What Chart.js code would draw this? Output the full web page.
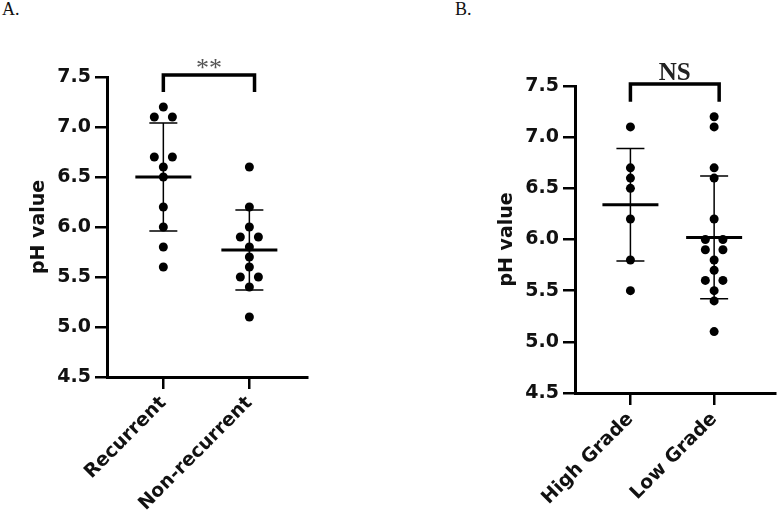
<!DOCTYPE html>
<html>
<head>
<meta charset="utf-8">
<script src="https://cdn.jsdelivr.net/npm/chart.js@4"></script>
<style>
  html, body { margin: 0; padding: 0; background: #fff; overflow: hidden; }
  .panel { position: absolute; }
  .tag { position: absolute; font-family: "Liberation Serif", serif; font-size: 18px; color: #111; }
</style>
</head>
<body>
<div class="tag" style="left:2px;top:-1px">A.</div>
<div class="tag" style="left:455px;top:-1px">B.</div>
<div class="panel" style="left:0;top:0;width:330px;height:516px"><canvas id="chartA"></canvas></div>
<div class="panel" style="left:470px;top:0;width:310px;height:516px"><canvas id="chartB"></canvas></div>
<script>
// A. recurrence
const groupsA = ['Recurrent', 'Non-recurrent'];
const recurrent = [7.2, 7.1, 7.1, 6.7, 6.7, 6.6, 6.5, 6.2, 6.0, 5.8, 5.6];
const nonRecurrent = [6.6, 6.2, 6.0, 5.9, 5.9, 5.8, 5.7, 5.6, 5.5, 5.5, 5.4, 5.1];
const meanA = [6.50, 5.77];
const sdA = [0.54, 0.40];

// B. tumour grade
const groupsB = ['High Grade', 'Low Grade'];
const highGrade = [7.1, 6.7, 6.6, 6.5, 6.2, 5.8, 5.5];
const lowGrade = [7.2, 7.1, 6.7, 6.6, 6.2, 6.0, 6.0, 5.9, 5.9, 5.8, 5.7, 5.6, 5.6, 5.5, 5.4, 5.1];
const meanB = [6.34, 6.02];
const sdB = [0.55, 0.60];

const yTicks = [4.5, 5.0, 5.5, 6.0, 6.5, 7.0, 7.5];

// spread duplicate values sideways so both dots show
function toPoints(groups) {
  return groups.flatMap((vals, i) => {
    const seen = {};
    return vals.map(v => {
      const n = vals.filter(u => u === v).length;
      seen[v] = (seen[v] || 0) + 1;
      const off = n === 1 ? 0 : (seen[v] === 1 ? -0.105 : 0.105);
      return { x: i + off, y: v };
    });
  });
}

const errorBars = {
  id: 'errorBars',
  beforeDatasetsDraw(chart, args, opts) {
    const { ctx, scales: { x, y } } = chart;
    ctx.save();
    ctx.strokeStyle = '#000';
    opts.means.forEach((m, i) => {
      const cx = x.getPixelForValue(i);
      const top = y.getPixelForValue(m + opts.sds[i]);
      const bot = y.getPixelForValue(m - opts.sds[i]);
      ctx.lineWidth = 1.5;
      ctx.beginPath();
      ctx.moveTo(cx, top); ctx.lineTo(cx, bot);
      ctx.moveTo(cx - 14, top); ctx.lineTo(cx + 14, top);
      ctx.moveTo(cx - 14, bot); ctx.lineTo(cx + 14, bot);
      ctx.stroke();
      const my = y.getPixelForValue(m);
      ctx.lineWidth = 3;
      ctx.beginPath();
      ctx.moveTo(cx - 28, my); ctx.lineTo(cx + 28, my);
      ctx.stroke();
    });

    // significance bracket
    const b = opts.bracket;
    const x0 = x.getPixelForValue(0), x1 = x.getPixelForValue(1.06);
    const yt = y.getPixelForValue(b.top), yl = y.getPixelForValue(b.leg);
    ctx.lineWidth = 3.5;
    ctx.lineJoin = 'miter';
    ctx.lineCap = 'butt';
    ctx.beginPath();
    ctx.moveTo(x0, yl); ctx.lineTo(x0, yt); ctx.lineTo(x1, yt); ctx.lineTo(x1, yl);
    ctx.stroke();
    ctx.font = b.font;
    ctx.fillStyle = b.color;
    ctx.textAlign = 'center';
    ctx.textBaseline = 'alphabetic';
    ctx.fillText(b.label, (x0 + x1) / 2, yt + b.dy);
    ctx.restore();
  }
};

const tickFont = { family: 'DejaVu Sans', size: 19, weight: 'bold' };

function makeChart(id, groups, data, means, sds, opt) {
  return new Chart(document.getElementById(id), {
    type: 'scatter',
    data: {
      datasets: [{
        data: toPoints(data),
        pointRadius: 4.5,
        pointHoverRadius: 4.5,
        backgroundColor: '#000',
        borderWidth: 0
      }]
    },
    plugins: [errorBars],
    options: {
      responsive: true,
      maintainAspectRatio: false,
      animation: false,
      layout: { padding: opt.pad },
      plugins: {
        legend: { display: false },
        tooltip: { enabled: false },
        errorBars: { means: means, sds: sds, bracket: opt.bracket }
      },
      scales: {
        x: {
          type: 'linear',
          min: opt.xMin,
          max: opt.xMax,
          afterBuildTicks: s => { s.ticks = groups.map((g, i) => ({ value: i })); },
          afterFit: s => { s.height = opt.xHeight; },
          ticks: {
            autoSkip: false, minRotation: 45, maxRotation: 45, padding: 3,
            color: '#111', font: tickFont,
            callback: v => groups[v]
          },
          grid: { drawOnChartArea: false, drawTicks: true, tickLength: 12, color: '#000', lineWidth: 2.5 },
          border: { display: true, color: '#000', width: 3 }
        },
        y: {
          min: 4.5,
          max: 7.5,
          afterBuildTicks: s => { s.ticks = yTicks.map(v => ({ value: v })); },
          afterFit: s => { s.width = opt.yWidth; },
          ticks: { padding: 4, color: '#111', font: tickFont, callback: v => v.toFixed(1) },
          grid: { drawOnChartArea: false, drawTicks: true, tickLength: 12, color: '#000', lineWidth: 2.5 },
          border: { display: true, color: '#000', width: 3 },
          title: { display: true, text: 'pH value', color: '#111', font: tickFont, padding: { top: opt.titlePad, bottom: 0 } }
        }
      }
    }
  });
}

makeChart('chartA', groupsA, [recurrent, nonRecurrent], meanA, sdA, {
  xMin: -0.655, xMax: 1.67, yWidth: 107, xHeight: 139, titlePad: 28,
  pad: { top: 77, right: 23, left: 0, bottom: 0 },
  bracket: { top: 7.52, leg: 7.35, label: '**', font: '26px "Liberation Serif"', color: '#555', dy: 1 }
});

makeChart('chartB', groupsB, [highGrade, lowGrade], meanB, sdB, {
  xMin: -0.662, xMax: 1.733, yWidth: 105, xHeight: 123, titlePad: 26,
  pad: { top: 86, right: 0, left: 0, bottom: 0 },
  bracket: { top: 7.52, leg: 7.345, label: 'NS', font: 'bold 25px "Liberation Serif"', color: '#222', dy: -4 }
});
</script>
</body>
</html>
